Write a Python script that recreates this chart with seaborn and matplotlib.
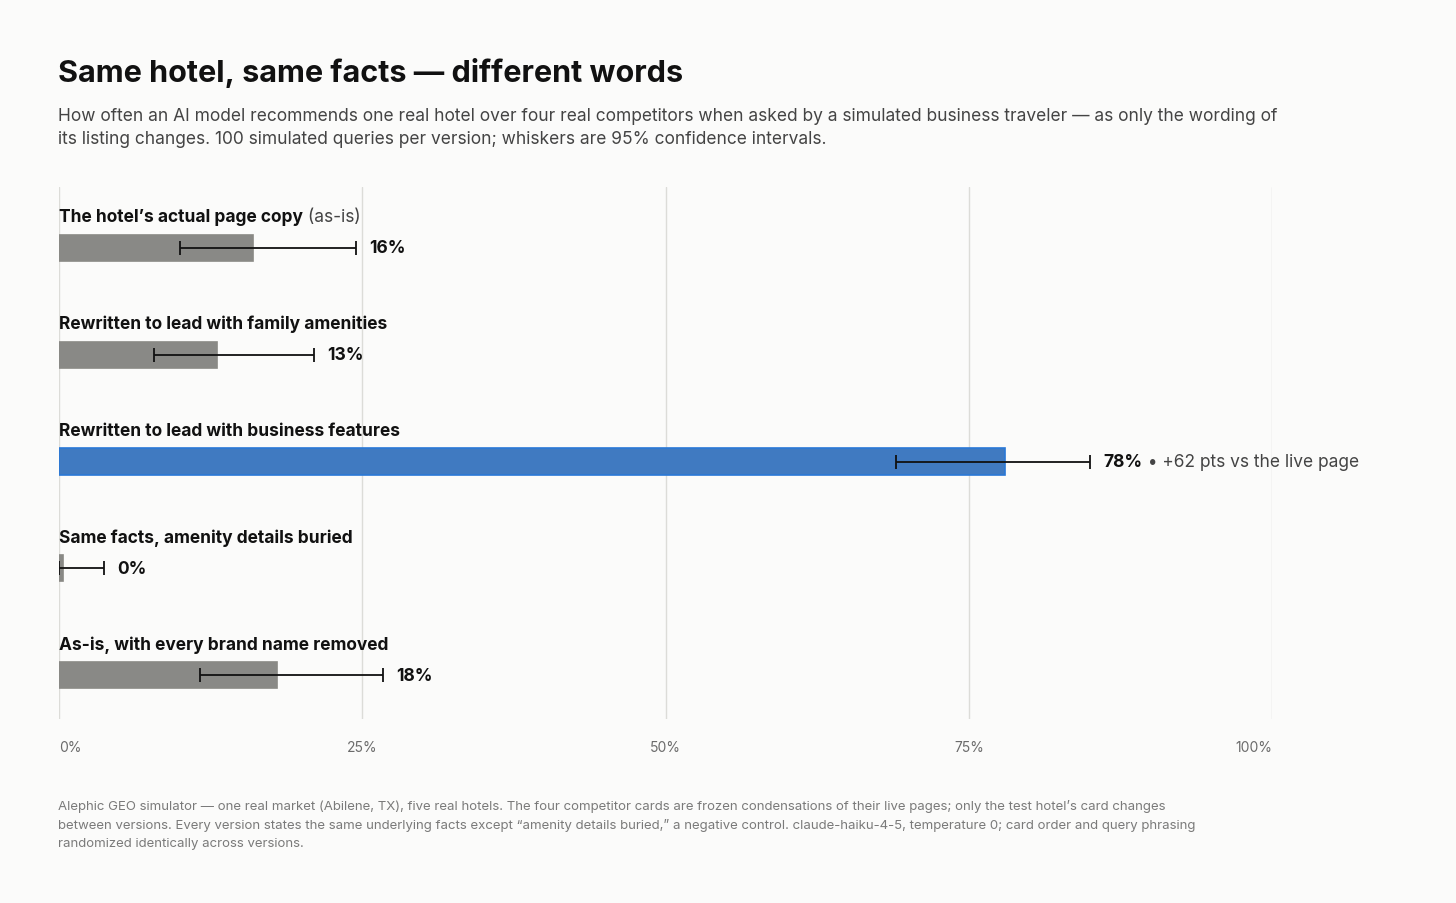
import matplotlib
matplotlib.use("Agg")
import matplotlib.pyplot as plt
import seaborn as sns
import pandas as pd

labels_bold = ["The hotel’s actual page copy", "Rewritten to lead with family amenities",
               "Rewritten to lead with business features", "Same facts, amenity details buried",
               "As-is, with every brand name removed"]
labels_extra = [" (as-is)", "", "", "", ""]
rates = [16, 13, 78, 0.3, 18]
shown = ["16%", "13%", "78%", "0%", "18%"]
ci_low = [10, 7.8, 69, 0, 11.6]
ci_high = [24.5, 21, 85, 3.7, 26.7]
bar_colors = ["#8a8985", "#8a8985", "#2a78d6", "#8a8985", "#8a8985"]

BG = "#fbfbfa"
sns.set_theme(style="white")
plt.rcParams["font.family"] = ["Inter", "DejaVu Sans"]

df = pd.DataFrame({"row": list(range(5)), "rate": rates})
fig = plt.figure(figsize=(14.56, 9.04), dpi=100, facecolor=BG)
ax = fig.add_axes([59/1456, 1-720/904, (1272-59)/1456, (720-188)/904])
ax.set_facecolor(BG)
sns.barplot(data=df, x="rate", y="row", orient="h", hue="row", palette=bar_colors,
            legend=False, width=0.245, ax=ax, zorder=3)
for p, c in zip(ax.patches, bar_colors):
    p.set_edgecolor(c)
    p.set_linewidth(1.2)
ax.errorbar(x=[(l+h)/2 for l, h in zip(ci_low, ci_high)], y=range(5),
            xerr=[(h-l)/2 for l, h in zip(ci_low, ci_high)], fmt="none",
            ecolor="#111111", elinewidth=1.3, capsize=5, capthick=1.3, zorder=4)

ax.set_xlim(0, 100)
ax.set_ylim(4.41, -0.57)
ax.set_xticks([0, 25, 50, 75, 100])
ax.set_xticklabels(["0%", "25%", "50%", "75%", "100%"])
ax.xaxis.grid(True, color="#dcdcd8", lw=1, zorder=0)
ax.tick_params(axis="x", length=0, pad=15, labelsize=10, labelcolor="#6b6b6b")
ax.set_yticks([])
ax.set_xlabel("")
ax.set_ylabel("")
for s in ax.spines.values():
    s.set_visible(False)
tl = ax.get_xticklabels()
tl[0].set_ha("left")
tl[-1].set_ha("right")

fig.canvas.draw()
r = fig.canvas.get_renderer()
for i in range(5):
    t = ax.text(0, i - 0.29, labels_bold[i], fontsize=12.5, fontweight="bold",
                color="#111111", va="center", ha="left")
    if labels_extra[i]:
        bb = t.get_window_extent(r)
        ax.annotate(labels_extra[i], xy=(bb.x1, 0), xycoords=("figure pixels", "axes fraction"),
                    xytext=(0, 0), textcoords="offset points", alpha=0)
        x1 = ax.transData.inverted().transform((bb.x1, 0))[0]
        ax.text(x1, i - 0.29, labels_extra[i], fontsize=12.5, color="#444444", va="center", ha="left")
    v = ax.text(ci_high[i] + 1.1, i, shown[i], fontsize=12.5, fontweight="bold",
                color="#111111", va="center", ha="left")
    if i == 2:
        bb = v.get_window_extent(r)
        x1 = ax.transData.inverted().transform((bb.x1, 0))[0]
        ax.text(x1, i, " • +62 pts vs the live page", fontsize=12.5, color="#444444",
                va="center", ha="left")

fig.text(58/1456, 1-73/904, "Same hotel, same facts — different words", fontsize=22,
         fontweight="bold", color="#111111", va="center")
fig.text(58/1456, 1-128/904,
         "How often an AI model recommends one real hotel over four real competitors when asked by a simulated business traveler — as only the wording of\n"
         "its listing changes. 100 simulated queries per version; whiskers are 95% confidence intervals.",
         fontsize=12.5, color="#444444", va="center", linespacing=1.5)
fig.text(58/1456, 1-825/904,
         "Alephic GEO simulator — one real market (Abilene, TX), five real hotels. The four competitor cards are frozen condensations of their live pages; only the test hotel’s card changes\n"
         "between versions. Every version states the same underlying facts except “amenity details buried,” a negative control. claude-haiku-4-5, temperature 0; card order and query phrasing\n"
         "randomized identically across versions.",
         fontsize=9.5, color="#7a7a7a", va="center", linespacing=1.6)

fig.savefig("out.png", dpi=100, facecolor=BG)
